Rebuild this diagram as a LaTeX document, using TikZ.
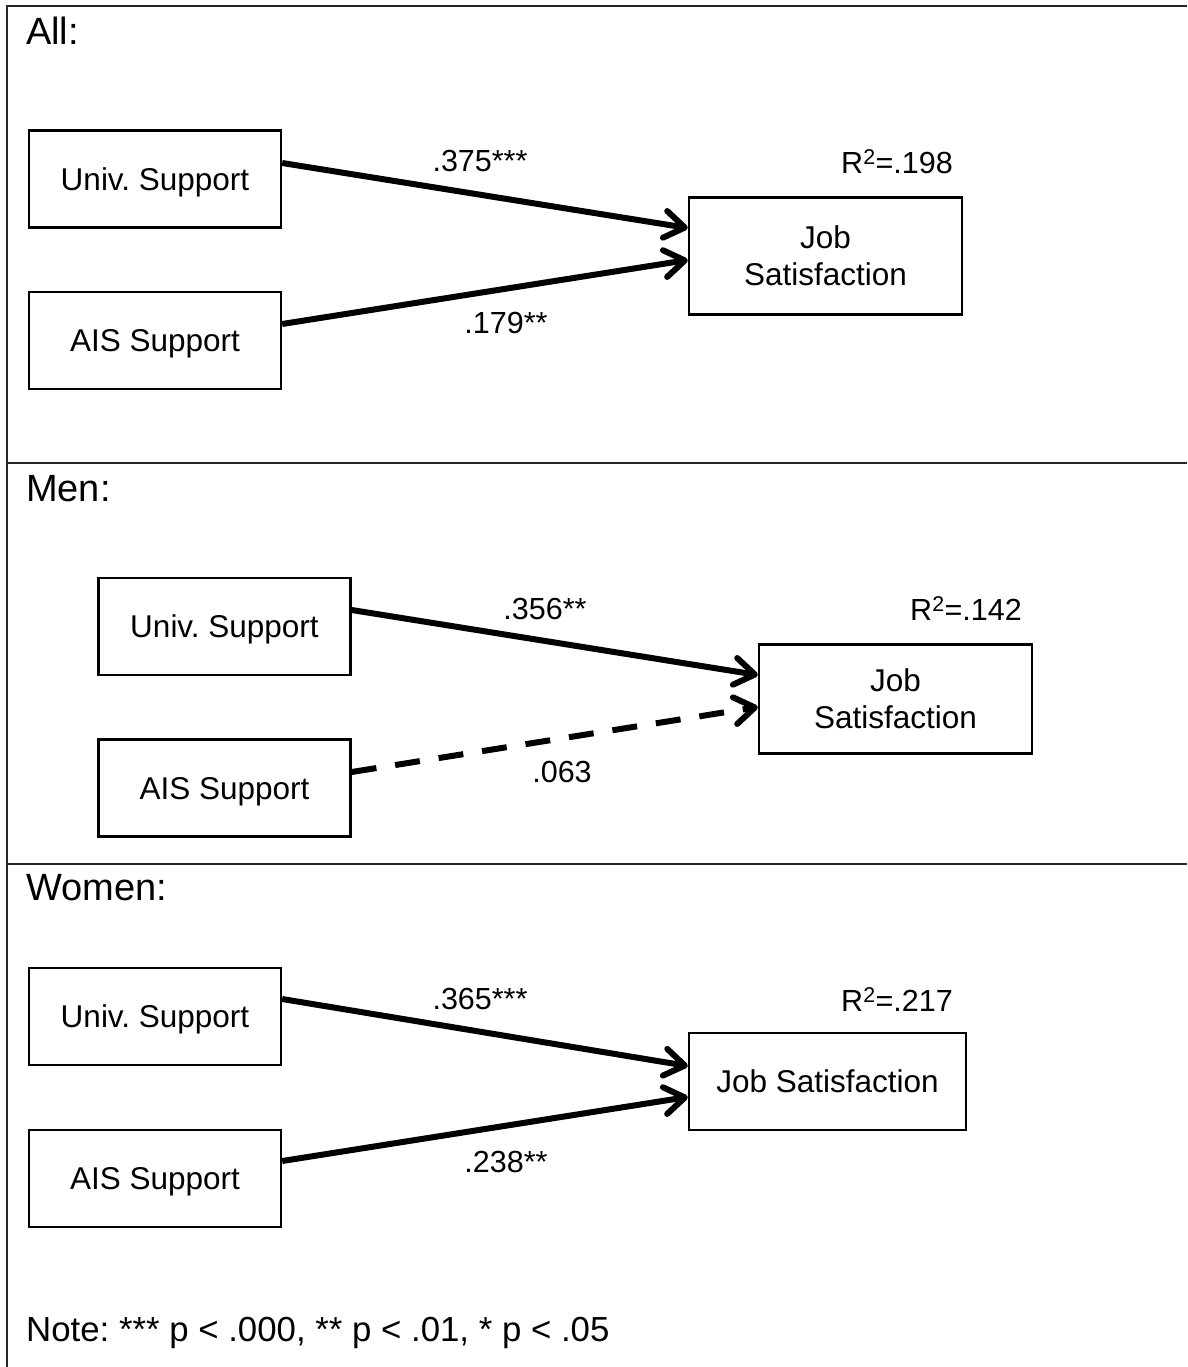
\documentclass[tikz,border=0pt]{standalone}
\usepackage{fontspec}
\setmainfont{Liberation Sans}
\usetikzlibrary{arrows.meta}
\frenchspacing
\tikzset{
  var/.style={draw, line width=2.4pt, minimum width=252pt, minimum height=97pt,
    inner sep=0pt, font=\fontsize{31.5}{37}\selectfont, align=center, text depth=0pt},
  path/.style={line width=6pt, -{Straight Barb[length=20pt,width=27pt,line cap=round,line join=round]}},
  coef/.style={font=\fontsize{30.5}{36}\selectfont, inner sep=0pt},
  heading/.style={font=\fontsize{38}{44}\selectfont, anchor=west, inner sep=0pt},
  frame/.style={line width=2pt, draw=black!85}
}
\begin{document}
\begin{tikzpicture}[x=1pt,y=-1pt]
\useasboundingbox (0,0) rectangle (1187,1367);
% panel frame
\draw[frame] (7,1367) -- (7,6) -- (1187,6);
\draw[frame] (7,463) -- (1187,463);
\draw[frame] (7,864) -- (1187,864);

% ---- All ----
\node[heading] (hAll) at (26,31) {All:};
\node[var] (u1) at (155,179) {Univ. Support};
\node[var] (a1) at (155,340.5) {AIS Support};
\node[var, minimum width=273pt, minimum height=117pt] (j1) at (825.5,256) {Job\\Satisfaction};
\draw[path] ([yshift=16pt]u1.east) -- ([yshift=28pt]j1.west);
\draw[path] ([yshift=16.5pt]a1.east) -- ([yshift=-4pt]j1.west);
\node[coef] (c1u) at (480,161) {.375***};
\node[coef] (c1a) at (506,323) {.179**};
\node[coef] (r1) at (897,162) {R\textsuperscript{2}=.198};

% ---- Men ----
\node[heading] (hMen) at (26,489) {Men:};
\node[var] (u2) at (224.5,626.5) {Univ. Support};
\node[var] (a2) at (224.5,788) {AIS Support};
\node[var, minimum width=273pt, minimum height=109pt] (j2) at (895.5,699) {Job\\Satisfaction};
\draw[path] ([yshift=16.5pt]u2.east) -- ([yshift=24pt]j2.west);
\draw[path, dash pattern=on 25pt off 19pt] ([yshift=16pt]a2.east) -- ([yshift=-8pt]j2.west);
\node[coef] (c2u) at (545,609) {.356**};
\node[coef] (c2a) at (562,772) {.063};
\node[coef] (r2) at (966,609) {R\textsuperscript{2}=.142};

% ---- Women ----
\node[heading] (hWomen) at (26,888) {Women:};
\node[var] (u3) at (155,1016.5) {Univ. Support};
\node[var] (a3) at (155,1178.5) {AIS Support};
\node[var, minimum width=277pt, minimum height=97pt] (j3) at (827.5,1081.5) {Job Satisfaction};
\draw[path] ([yshift=17.5pt]u3.east) -- ([yshift=15.5pt]j3.west);
\draw[path] ([yshift=17.5pt]a3.east) -- ([yshift=-15.5pt]j3.west);
\node[coef] (c3u) at (480,999) {.365***};
\node[coef] (c3a) at (506,1162) {.238**};
\node[coef] (r3) at (897,1000) {R\textsuperscript{2}=.217};

% note
\node[heading, font=\fontsize{34.8}{40}\selectfont] (note) at (26,1333) {Note: *** p < .000, ** p < .01, * p < .05};
\end{tikzpicture}
\end{document}
